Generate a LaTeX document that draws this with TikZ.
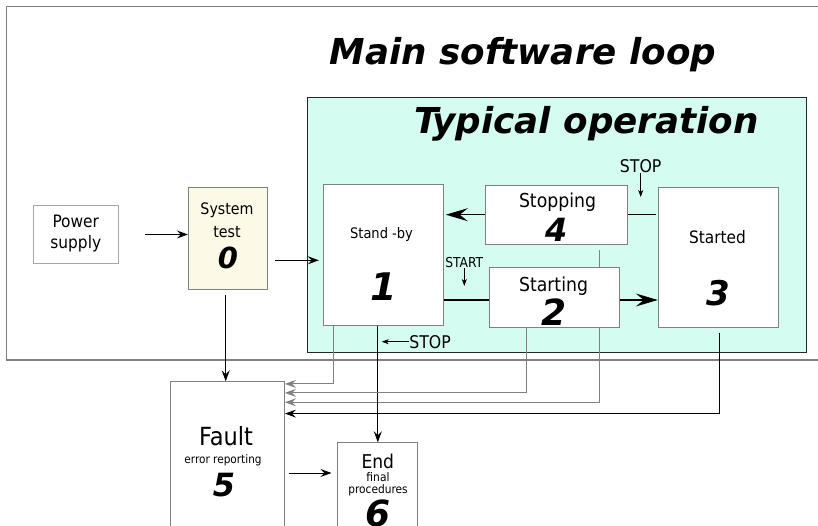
\documentclass[tikz,border=0pt]{standalone}
\usepackage{fontspec}
\setmainfont{DejaVu Sans}
\newfontfamily\condfont{DejaVu Sans Condensed}
\usetikzlibrary{arrows.meta}
\definecolor{opteal}{RGB}{213,252,240}
\definecolor{testcream}{RGB}{252,250,230}
\definecolor{edgegray}{RGB}{128,128,128}
\pgfdeclarelayer{frame}
\pgfdeclarelayer{wires}
\pgfsetlayers{frame,wires,main}
\tikzset{
  statebox/.style={draw=edgegray, fill=white, line width=1pt, inner sep=0pt},
  txt/.style={inner sep=0pt, font=\condfont\fontsize{#1}{#1}\selectfont},
  num/.style={inner sep=0pt, font=\fontsize{#1}{#1}\selectfont\bfseries\itshape},
  title/.style={inner sep=0pt, font=\fontsize{35.7}{40}\selectfont\bfseries\itshape},
  wire/.style={line width=0.9pt, -{Stealth[length=11pt,width=8pt,inset=4pt]}},
  bigwire/.style={line width=1.3pt, -{Stealth[length=22pt,width=13pt,inset=8pt]}},
  tick/.style={line width=0.7pt, -{Stealth[length=7pt,width=5pt,inset=2pt]}},
}
\begin{document}
\begin{tikzpicture}[x=1pt,y=-1pt]
    \useasboundingbox (0,0) rectangle (818,526);
    % frames
    \begin{pgfonlayer}{frame}
    \node[draw=edgegray, line width=1.5pt, inner sep=0pt, minimum width=833.3, minimum height=353.3] (mainloop) at (423.35,183.35) {};
    \node[draw=black!85, fill=opteal, line width=1pt, inner sep=0pt, minimum width=498.8, minimum height=254.3] (typical) at (557.1,224.85) {};
    \end{pgfonlayer}
    \node[title] (maintitle) at (523,55) {Main software loop};
    \node[title] (optitle) at (586.5,123.5) {Typical operation};
    % boxes
    \node[statebox, draw=black!35, minimum width=85, minimum height=57.6] (power) at (75.8,234.5) {};
    \node[statebox, fill=testcream, minimum width=79.4, minimum height=102] (systest) at (228,238.3) {};
    \node[statebox, minimum width=120, minimum height=140] (standby) at (383.3,255) {};
    \node[statebox, minimum width=142.3, minimum height=59.3] (stopping) at (556.2,214.7) {};
    \node[statebox, minimum width=130, minimum height=60.4] (starting) at (554,297.5) {};
    \node[statebox, minimum width=120, minimum height=140] (started) at (718.3,257.3) {};
    \node[statebox, minimum width=113.8, minimum height=178] (fault) at (227.6,470.8) {};
    \node[statebox, minimum width=79.7, minimum height=117] (end) at (377.8,501.3) {};
    % texts
    \node[txt=17.1] (powertxt) at (75.8,221.7) {Power};
    \node[txt=17.1] (supplytxt) at (75.8,244) {supply};
    \node[txt=15.8] (systxt) at (227,210.7) {System};
    \node[txt=15.8] (testtxt) at (227,232.3) {test};
    \node[num=29] (sysnum) at (228,258.3) {0};
    \node[txt=14.5] (sbtxt) at (381.5,235) {Stand -by};
    \node[num=38] (sbnum) at (383.3,286.7) {1};
    \node[txt=19.2] (stoppingtxt) at (557.5,202.7) {Stopping};
    \node[num=32] (stoppingnum) at (556.2,230) {4};
    \node[txt=19.2] (startingtxt) at (553.5,286) {Starting};
    \node[num=36] (startingnum) at (554,311.7) {2};
    \node[txt=17.1] (startedtxt) at (717.5,236.7) {Started};
    \node[num=34] (startednum) at (718.3,292.7) {3};
    \node[txt=25] (faulttxt) at (226,436) {Fault};
    \node[txt=11.7] (errtxt) at (223,460) {error reporting};
    \node[num=32] (faultnum) at (224,485) {5};
    \node[txt=19] (endtxt) at (377.8,461) {End};
    \node[txt=11.9] (finaltxt) at (378,477.5) {final};
    \node[txt=11.8] (proctxt) at (378,490.5) {procedures};
    \node[num=36] (endnum) at (378,513) {6};
    % signals
    \node[txt=13.7] (startsig) at (464.3,262.7) {START};
    \coordinate (startpt) at (464.3,286);
    \node[txt=17.5] (stopsigtop) at (640.7,165.7) {STOP};
    \coordinate (stoppttop) at (640.7,197);
    \node[txt=17.5] (stopsigbot) at (430,341.7) {STOP};
    \coordinate (stopptbot) at (381.7,341.7);
    \draw[tick] (startsig) -- (startpt);
    \draw[tick] (stopsigtop) -- (stoppttop);
    \draw[tick] (stopsigbot) -- (stopptbot);
    % connectors
    \draw[wire, shorten <=26pt] (power.east) -- (power.east -| systest.west);
    \draw[wire, shorten <=7pt, shorten >=4pt] ([yshift=-22pt]systest.east) -- ([yshift=-22pt]systest.east -| standby.west);
    \draw[bigwire, shorten >=2pt] (stopping.west) -- (stopping.west -| standby.east);
    \draw[line width=1.3pt, shorten >=2pt] (stopping.east) -- (stopping.east -| started.west);
    \draw[line width=1.3pt] ([yshift=-2.5pt]starting.west -| standby.east) -- ([yshift=-2.5pt]starting.west);
    \draw[bigwire] ([yshift=-2.5pt]starting.east) -- ([yshift=-2.5pt]starting.east -| started.west);
    \draw[wire, shorten <=4.7pt] ([xshift=-2.3pt]systest.south) -- ([xshift=-2.3pt]systest.south |- fault.north);
    \draw[wire] (end.north |- standby.south) -- (end.north);
    \draw[wire, edgegray] ([xshift=-50pt]standby.south) |- ([yshift=-2.6pt]fault.north east);
    \draw[wire, edgegray] ([xshift=-27.3pt]starting.south) |- ([yshift=-11.6pt]fault.north east);
    \begin{pgfonlayer}{wires}
    \draw[wire, edgegray, shorten <=4.7pt] ([xshift=43pt]stopping.south) |- ([yshift=-21pt]fault.north east);
    \end{pgfonlayer}
    \draw[wire, shorten <=5.4pt] ([xshift=1pt]started.south) |- ([yshift=-32.3pt]fault.north east);
    \draw[wire, shorten <=3.5pt, shorten >=6pt] ([yshift=-2.2pt]fault.east) -- ([yshift=-2.2pt]fault.east -| end.west);
\end{tikzpicture}
\end{document}
